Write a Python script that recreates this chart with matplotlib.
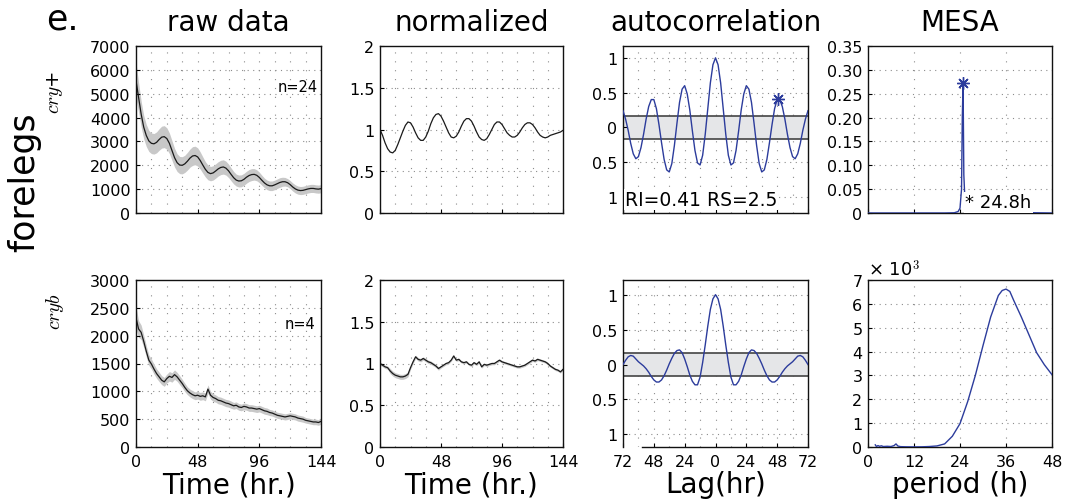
"""Fig. e: forelegs raw / normalized / autocorrelation / MESA panels."""

import matplotlib

matplotlib.use("Agg")
import matplotlib.pyplot as plt
import numpy as np

plt.rcParams["font.family"] = ["DejaVu Sans"]
plt.rcParams["mathtext.fontset"] = "cm"
plt.rcParams["axes.unicode_minus"] = False

# ---- data ------------------------------------------------------------------
hours = np.arange(0, 145, 2)

raw_cry = [
    5550, 4850, 4150, 3600, 3250, 3020, 2920, 2900, 2960, 3080, 3180, 3200,
    3120, 2920, 2620, 2320, 2110, 2010, 2000, 2060, 2170, 2300, 2390, 2410,
    2350, 2200, 2010, 1830, 1700, 1650, 1680, 1760, 1850, 1910, 1930, 1880,
    1770, 1620, 1480, 1380, 1340, 1350, 1410, 1500, 1570, 1610, 1620, 1580,
    1490, 1370, 1260, 1180, 1140, 1140, 1180, 1230, 1280, 1310, 1310, 1270,
    1190, 1090, 1010, 960, 940, 950, 980, 1010, 1030, 1030, 1010, 1000,
    1020,
]
raw_cry_sem = [
    750, 620, 540, 490, 460, 440, 430, 430, 440, 450, 460, 460,
    450, 430, 410, 390, 370, 360, 360, 360, 370, 380, 390, 390,
    380, 360, 340, 320, 310, 300, 300, 300, 300, 300, 300, 290,
    280, 270, 260, 250, 250, 250, 250, 250, 250, 250, 240, 230,
    220, 210, 200, 200, 200, 200, 200, 200, 200, 190, 180, 170,
    170, 170, 170, 170, 170, 170, 170, 170, 170, 170, 170, 170,
    170,
]
norm_cry = [
    1.00, 0.93, 0.84, 0.77, 0.73, 0.72, 0.75, 0.82, 0.90, 0.98, 1.05, 1.09,
    1.08, 1.03, 0.96, 0.90, 0.87, 0.87, 0.91, 0.98, 1.07, 1.14, 1.18, 1.19,
    1.16, 1.10, 1.03, 0.96, 0.91, 0.90, 0.92, 0.97, 1.04, 1.10, 1.13, 1.13,
    1.10, 1.04, 0.97, 0.91, 0.88, 0.87, 0.89, 0.94, 1.00, 1.06, 1.09, 1.09,
    1.06, 1.01, 0.96, 0.93, 0.91, 0.91, 0.93, 0.97, 1.02, 1.06, 1.08, 1.08,
    1.06, 1.02, 0.97, 0.93, 0.91, 0.90, 0.91, 0.93, 0.94, 0.95, 0.96, 0.97,
    0.99,
]
raw_cryb = [
    2320, 2120, 2060, 1900, 1720, 1560, 1490, 1400, 1320, 1260, 1200, 1170,
    1230, 1270, 1250, 1300, 1260, 1200, 1140, 1070, 1010, 970, 940, 920,
    930, 910, 920, 900, 1040, 930, 890, 870, 840, 830, 810, 790,
    780, 760, 740, 750, 720, 710, 730, 720, 700, 700, 690, 680,
    690, 670, 650, 640, 620, 610, 590, 570, 560, 550, 540, 550,
    560, 550, 540, 520, 510, 500, 480, 470, 460, 450, 450, 440,
    460,
]
raw_cryb_sem = [
    200, 150, 130, 110, 100, 95, 90, 90, 85, 85, 80, 80,
    80, 85, 85, 85, 80, 80, 75, 75, 70, 70, 70, 70,
    70, 70, 70, 70, 75, 70, 70, 65, 65, 65, 65, 65,
    65, 65, 60, 60, 60, 60, 60, 60, 60, 60, 60, 60,
    60, 60, 60, 60, 55, 55, 55, 55, 55, 55, 55, 55,
    55, 55, 55, 55, 55, 55, 50, 50, 50, 50, 50, 50,
    50,
]
norm_cryb = [
    1.00, 0.98, 0.96, 0.95, 0.91, 0.88, 0.86, 0.85, 0.84, 0.84, 0.85, 0.87,
    0.95, 1.02, 1.08, 1.05, 1.04, 1.06, 1.04, 1.02, 1.01, 0.99, 0.97, 0.94,
    0.96, 0.98, 1.00, 1.01, 1.04, 1.09, 1.04, 1.05, 1.02, 1.01, 1.02, 0.99,
    0.98, 1.01, 0.99, 1.02, 0.96, 0.99, 0.98, 0.99, 1.00, 1.00, 1.02, 1.04,
    1.02, 1.01, 1.00, 0.99, 0.98, 0.97, 0.96, 0.96, 0.97, 0.98, 1.00, 1.02,
    1.04, 1.03, 1.05, 1.04, 1.03, 1.02, 1.00, 0.97, 0.95, 0.93, 0.92, 0.90,
    0.93,
]
norm_cryb_sem = [
    0.02, 0.02, 0.02, 0.02, 0.03, 0.03, 0.03, 0.03, 0.03, 0.03, 0.03, 0.03,
    0.02, 0.02, 0.02, 0.02, 0.02, 0.02, 0.02, 0.02, 0.02, 0.02, 0.02, 0.02,
    0.015, 0.015, 0.015, 0.015, 0.015, 0.015, 0.015, 0.015, 0.015, 0.015, 0.015, 0.015,
    0.015, 0.015, 0.015, 0.015, 0.015, 0.015, 0.015, 0.015, 0.015, 0.015, 0.015, 0.015,
    0.015, 0.015, 0.015, 0.015, 0.015, 0.015, 0.015, 0.015, 0.015, 0.015, 0.015, 0.015,
    0.015, 0.015, 0.015, 0.015, 0.015, 0.015, 0.015, 0.015, 0.015, 0.015, 0.015, 0.015,
    0.015,
]

# autocorrelation, lag 0..72 h (symmetric about 0)
acf_lag_half = np.arange(0, 73, 2)
acf_cry_half = [
    1.00, 0.90, 0.64, 0.27, -0.10, -0.40, -0.54, -0.51, -0.33, -0.05,
    0.25, 0.48, 0.60, 0.55, 0.36, 0.06, -0.26, -0.52, -0.64, -0.61,
    -0.46, -0.22, 0.04, 0.27, 0.40, 0.40, 0.30, 0.12, -0.10, -0.29,
    -0.42, -0.45, -0.38, -0.23, -0.04, 0.12, 0.24,
]
acf_cryb_half = [
    1.00, 0.94, 0.79, 0.55, 0.28, 0.03, -0.18, -0.29, -0.29, -0.24,
    -0.15, -0.03, 0.08, 0.17, 0.21, 0.20, 0.16, 0.09, 0.01, -0.08,
    -0.16, -0.22, -0.25, -0.25, -0.22, -0.17, -0.11, -0.06, -0.02, 0.01,
    0.04, 0.08, 0.12, 0.13, 0.11, 0.06, 0.00,
]
acf_ci = [0.16, 0.17]
acf_cry_peak = (49, 0.405)
rhythm_text = "RI=0.41 RS=2.5"

# MESA spectra
mesa_cry_period = [0, 12, 20, 22.5, 23.5, 24.0, 24.4, 24.6, 24.8, 25.0, 25.3, 26, 30, 48]
mesa_cry_power = [0, 0, 0, 0.0005, 0.003, 0.01, 0.05, 0.2, 0.272, 0.08, 0.025, 0.008, 0.002, 0]
mesa_cry_peak = (24.8, 0.272)
mesa_bot_period = [1.9, 2.2, 2.6, 3.0, 3.5, 4.0, 5.0, 6.0, 6.8, 7.3, 7.8, 8.5, 10, 12,
                   14, 16, 18, 20, 22, 24, 26, 28, 30, 32, 34, 35, 36, 37, 38, 40,
                   42, 44, 46, 48]
mesa_bot_power = [90, 20, 60, 30, 50, 20, 30, 20, 60, 130, 40, 15, 8, 5,
                  8, 20, 45, 130, 450, 980, 1900, 3000, 4250, 5450, 6350, 6560, 6620, 6520, 6150, 5450,
                  4700, 3950, 3450, 3030]

titles = ["raw data", "normalized", "autocorrelation", "MESA"]
genotypes = [r"$cry$+", r"$cryb$"]
n_labels = ["n=24", "n=4"]

# ---- style ------------------------------------------------------------------
BLUE = "#2c3c9c"
GRID_V = dict(color="#8c8c8c", linewidth=0.8, linestyle=(0, (1, 7)), zorder=0.5)
GRID_H = dict(color="#8c8c8c", linewidth=0.8, linestyle=(0, (1, 4)), zorder=0.5)
TICK_FS = 11.5
XLABEL_FS = 20

W, H = 1070, 502
fig = plt.figure(figsize=(W / 100, H / 100), dpi=100)

cols_px = [(136, 321), (380, 563), (623, 808), (868, 1052)]
rows_px = [(47, 214), (281, 448)]


def _axes(r, c):
    x0, x1 = cols_px[c]
    y0, y1 = rows_px[r]
    return fig.add_axes([x0 / W, 1 - y1 / H, (x1 - x0) / W, (y1 - y0) / H])


def _frame(ax, xgrid, ygrid, show_x):
    for s in ax.spines.values():
        s.set_linewidth(1.0)
        s.set_color("#111111")
    for x in xgrid:
        ax.axvline(x, **GRID_V)
    for y in ygrid:
        ax.axhline(y, **GRID_H)
    ax.tick_params(direction="in", length=3, width=0.8, labelsize=TICK_FS, pad=4,
                   labelbottom=show_x)
    ax.tick_params(axis="x", pad=5)


def _xlabel(ax, text):
    ax.set_xlabel(text, fontsize=XLABEL_FS, labelpad=1)


time_grid = list(range(12, 144, 12))
for r in range(2):
    show_x = r == 1
    raw = [raw_cry, raw_cryb][r]
    sem = np.asarray([raw_cry_sem, raw_cryb_sem][r])
    norm = [norm_cry, norm_cryb][r]

    # raw data
    ax = _axes(r, 0)
    ax.fill_between(hours, np.asarray(raw) - sem, np.asarray(raw) + sem,
                    color="#c8c8c8", linewidth=0, zorder=1)
    ax.plot(hours, raw, color="#1a1a1a", linewidth=0.9, zorder=2)
    ax.set_xlim(0, 144)
    ax.set_xticks([0, 48, 96, 144])
    if r == 0:
        ax.set_ylim(0, 7000)
        ax.set_yticks(range(0, 7001, 1000))
        ygrid = range(1000, 7000, 1000)
    else:
        ax.set_ylim(0, 3000)
        ax.set_yticks(range(0, 3001, 500))
        ygrid = range(500, 3000, 500)
    _frame(ax, time_grid, ygrid, show_x)
    ax.text(0.985 if r == 0 else 0.97, 0.76 if r == 0 else 0.74, n_labels[r],
            transform=ax.transAxes, ha="right", va="center", fontsize=10.5)
    if show_x:
        _xlabel(ax, "Time (hr.)")

    # normalized
    ax = _axes(r, 1)
    if r == 1:
        nsem = np.asarray(norm_cryb_sem)
        ax.fill_between(hours, np.asarray(norm) - nsem, np.asarray(norm) + nsem,
                        color="#c8c8c8", linewidth=0, zorder=1)
    ax.plot(hours, norm, color="#1a1a1a", linewidth=0.9, zorder=2)
    ax.set_xlim(0, 144)
    ax.set_ylim(0, 2)
    ax.set_xticks([0, 48, 96, 144])
    ax.set_yticks([0, 0.5, 1, 1.5, 2])
    ax.set_yticklabels(["0", "0.5", "1", "1.5", "2"])
    _frame(ax, time_grid, [0.5, 1, 1.5], show_x)
    if show_x:
        _xlabel(ax, "Time (hr.)")

    # autocorrelation
    ax = _axes(r, 2)
    half = [acf_cry_half, acf_cryb_half][r]
    lags = np.concatenate([-acf_lag_half[:0:-1], acf_lag_half])
    acf = np.concatenate([half[:0:-1], half])
    ci = acf_ci[r]
    ax.axhspan(-ci, ci, color="#e5e6e8", linewidth=0, zorder=1)
    ax.axhline(ci, color="#444444", linewidth=1.2, zorder=1.5)
    ax.axhline(-ci, color="#444444", linewidth=1.2, zorder=1.5)
    ax.plot(lags, acf, color=BLUE, linewidth=1.0, zorder=3)
    ax.set_xlim(-72, 72)
    ax.set_xticks(range(-72, 73, 24))
    ax.set_xticklabels(["72", "48", "24", "0", "24", "48", "72"])
    ax.set_yticks([-1, -0.5, 0, 0.5, 1])
    ax.set_yticklabels(["1", "0.5", "0", "0.5", "1"])
    _frame(ax, range(-60, 61, 12), [-1, -0.5, 0.5, 1], show_x)
    if r == 0:
        ax.set_ylim(-1.23, 1.17)
        ax.plot(*acf_cry_peak, marker=(8, 2, 0), markersize=9, color=BLUE,
                markeredgewidth=1.0, zorder=4)
        ax.text(0.01, 0.025, rhythm_text, transform=ax.transAxes, ha="left",
                va="bottom", fontsize=13.5,
                bbox=dict(facecolor="white", edgecolor="none", pad=0.5), zorder=5)
    else:
        ax.set_ylim(-1.18, 1.21)
        ax.spines["bottom"].set_bounds(-57, 72)
        _xlabel(ax, "Lag(hr)")

    # MESA
    ax = _axes(r, 3)
    ax.set_xlim(0, 48)
    ax.set_xticks([0, 12, 24, 36, 48])
    if r == 0:
        ax.plot(mesa_cry_period, mesa_cry_power, color=BLUE, linewidth=1.0, zorder=3)
        ax.plot(*mesa_cry_peak, marker=(8, 2, 0), markersize=9, color=BLUE,
                markeredgewidth=1.0, zorder=4)
        ax.set_ylim(0, 0.35)
        yt = [0, 0.05, 0.10, 0.15, 0.20, 0.25, 0.30, 0.35]
        ax.set_yticks(yt)
        ax.set_yticklabels(["0"] + [f"{v:.2f}" for v in yt[1:]])
        _frame(ax, [12, 24, 36], yt[1:-1], show_x)
        ax.text(25.4, 0.004, "* 24.8h", ha="left", va="bottom", fontsize=13,
                bbox=dict(facecolor="white", edgecolor="none", pad=1.0), zorder=5)
    else:
        ax.plot(mesa_bot_period, mesa_bot_power, color=BLUE, linewidth=1.0, zorder=3)
        ax.set_ylim(0, 7000)
        ax.set_yticks(range(0, 7001, 1000))
        ax.set_yticklabels([str(v) for v in range(8)])
        _frame(ax, [12, 24, 36], range(1000, 7000, 1000), show_x)
        _xlabel(ax, "period (h)")
        fig.text(868 / W, 1 - 276 / H, r"× 10$^3$", ha="left", va="baseline",
                 fontsize=13)

# titles and side labels
for c, title in enumerate(titles):
    x0, x1 = cols_px[c]
    fig.text((x0 + x1) / 2 / W, 1 - 23 / H, title, ha="center", va="center",
             fontsize=20)
fig.text(62 / W, 1 - 20 / H, "e.", ha="center", va="center", fontsize=25)
fig.text(24 / W, 1 - 182 / H, "forelegs", rotation=90, ha="center", va="center",
         fontsize=25)
fig.text(55 / W, 1 - 92 / H, genotypes[0], rotation=90, ha="center", va="center",
         fontsize=14)
fig.text(55 / W, 1 - 312 / H, genotypes[1], rotation=90, ha="center", va="center",
         fontsize=14)

fig.savefig("out.png", dpi=100)
plt.close(fig)
